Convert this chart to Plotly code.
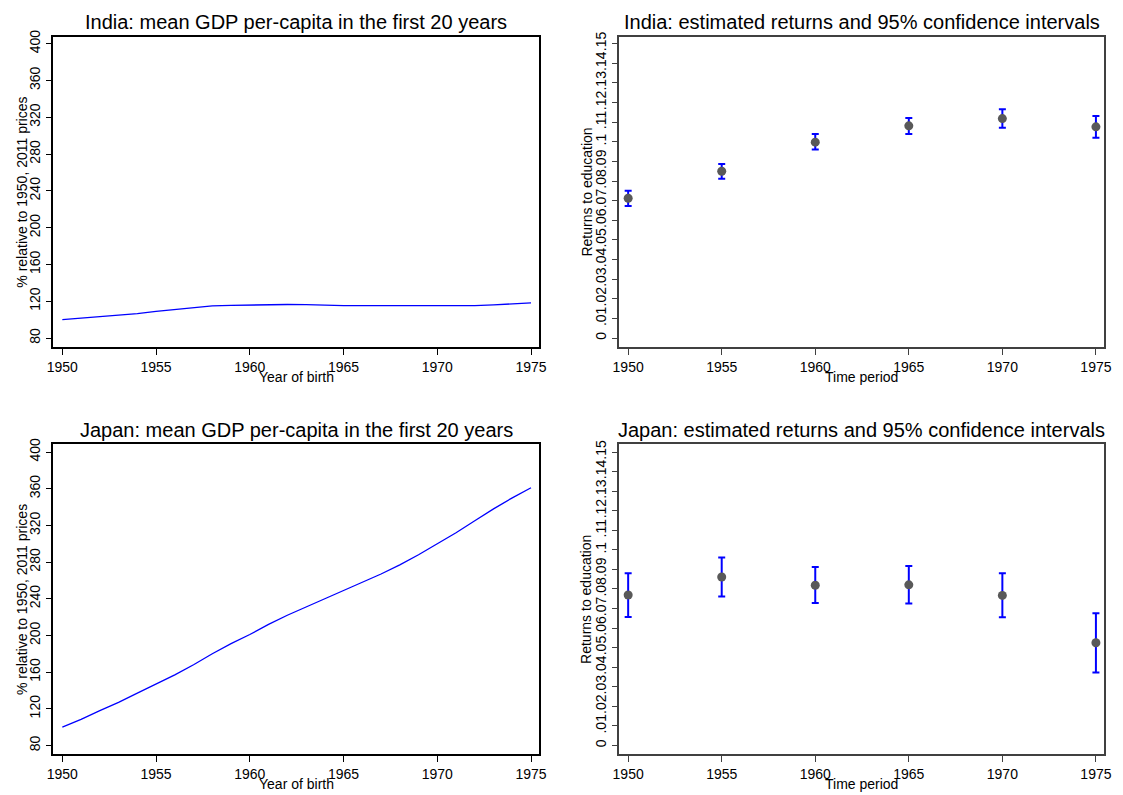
import plotly.graph_objects as go

# ---------------- data ----------------
years_gdp = list(range(1950, 1976))
india_gdp = [100, 101.5, 103, 105, 106.5, 109, 111, 113, 115, 115.5, 116, 116.5, 116.5,
             116.3, 115.5, 115.3, 115.3, 115.3, 115, 114.9, 114.9, 115, 115.2, 116, 117, 118.3]
japan_gdp = [100, 108.5, 118, 127, 137, 147, 157, 168, 180, 191, 201, 212, 222,
             231, 240, 249, 258, 267, 277, 288, 300, 312, 325, 338, 350, 361]

periods = [1950, 1955, 1960, 1965, 1970, 1975]
india_ret = [0.0712, 0.0850, 0.0998, 0.1081, 0.1118, 0.1076]
india_lo = [0.0673, 0.0811, 0.0961, 0.1040, 0.1071, 0.1020]
india_hi = [0.0751, 0.0887, 0.1039, 0.1121, 0.1165, 0.1131]
japan_ret = [0.0769, 0.0861, 0.0819, 0.0821, 0.0767, 0.0525]
japan_lo = [0.0657, 0.0762, 0.0728, 0.0726, 0.0655, 0.0373]
japan_hi = [0.0880, 0.0961, 0.0912, 0.0917, 0.0880, 0.0676]

x_ticks = [1950, 1955, 1960, 1965, 1970, 1975]
gdp_ticks = [80, 120, 160, 200, 240, 280, 320, 360, 400]
ret_ticks = [0, 0.01, 0.02, 0.03, 0.04, 0.05, 0.06, 0.07, 0.08, 0.09, 0.10,
             0.11, 0.12, 0.13, 0.14, 0.15]
ret_labels = ["0", ".01", ".02", ".03", ".04", ".05", ".06", ".07", ".08", ".09", ".1",
              ".11", ".12", ".13", ".14", ".15"]

titles = ["India: mean GDP per-capita in the first 20 years",
          "India: estimated returns and 95% confidence intervals",
          "Japan: mean GDP per-capita in the first 20 years",
          "Japan: estimated returns and 95% confidence intervals"]
gdp_ytitle = "% relative to 1950, 2011 prices"
ret_ytitle = "Returns to education"
gdp_xtitle = "Year of birth"
ret_xtitle = "Time period"

# ---------------- figure ----------------
W, H = 1123, 795
FONT = "Liberation Sans, Arial, sans-serif"

def px_x(p):
    return p / W

def px_y(p):
    return 1 - p / H

fig = go.Figure()

# GDP lines
fig.add_trace(go.Scatter(x=years_gdp, y=india_gdp, mode="lines",
                         line=dict(color="#0000FF", width=1.3),
                         xaxis="x", yaxis="y", showlegend=False))
fig.add_trace(go.Scatter(x=years_gdp, y=japan_gdp, mode="lines",
                         line=dict(color="#0000FF", width=1.3),
                         xaxis="x3", yaxis="y3", showlegend=False))

# Returns with CIs
def ret_trace(mean, lo, hi, xa, ya):
    return go.Scatter(
        x=periods, y=mean, mode="markers",
        marker=dict(color="#595959", size=9),
        error_y=dict(type="data", symmetric=False,
                     array=[h - m for h, m in zip(hi, mean)],
                     arrayminus=[m - l for m, l in zip(mean, lo)],
                     color="#0000FF", thickness=2, width=3.5),
        xaxis=xa, yaxis=ya, showlegend=False)

fig.add_trace(ret_trace(india_ret, india_lo, india_hi, "x2", "y2"))
fig.add_trace(ret_trace(japan_ret, japan_lo, japan_hi, "x4", "y4"))

left_dom = [px_x(47), px_x(539)]
right_dom = [px_x(620), px_x(1111)]
top_dom = [px_y(343), px_y(30)]
bot_dom = [px_y(754), px_y(441)]

tickfont = dict(family=FONT, size=14, color="black")

def xax(domain, anchor, color):
    return dict(domain=domain, anchor=anchor, range=[1949.525, 1975.44],
                tickmode="array", tickvals=x_ticks, ticks="outside", ticklen=6,
                tickcolor=color, tickwidth=1.3, showline=True, linecolor=color,
                linewidth=1.5, mirror=True, showgrid=False, zeroline=False,
                tickfont=tickfont)

def yax(domain, anchor, color, rng, vals, texts=None):
    d = dict(domain=domain, anchor=anchor, range=rng,
             tickmode="array", tickvals=vals, ticks="outside", ticklen=6,
             tickcolor=color, tickwidth=1.3, showline=True, linecolor=color,
             linewidth=1.5, mirror=True, showgrid=False, zeroline=False,
             tickangle=-90, tickfont=tickfont)
    if texts is not None:
        d["ticktext"] = texts
    return d

fig.update_layout(
    width=W, height=H,
    margin=dict(l=0, r=0, t=0, b=0),
    paper_bgcolor="white", plot_bgcolor="white",
    font=dict(family=FONT, color="black"),
    xaxis=xax(left_dom, "y", "black"),
    yaxis=yax(top_dom, "x", "black", [70.3, 407.5], gdp_ticks),
    xaxis2=xax(right_dom, "y2", "#404040"),
    yaxis2=yax(top_dom, "x2", "#404040", [-0.00455, 0.1535], ret_ticks, ret_labels),
    xaxis3=xax(left_dom, "y3", "black"),
    yaxis3=yax(bot_dom, "x3", "black", [70.3, 408.6], gdp_ticks),
    xaxis4=xax(right_dom, "y4", "#404040"),
    yaxis4=yax(bot_dom, "x4", "#404040", [-0.00456, 0.15405], ret_ticks, ret_labels),
)

ann = []
def add_text(text, x, y, size, angle=0):
    ann.append(dict(text=text, x=px_x(x), y=px_y(y), xref="paper", yref="paper",
                    showarrow=False, xanchor="center", yanchor="middle",
                    textangle=angle, font=dict(family=FONT, size=size, color="black")))

lc = (47 + 539) / 2
rc = (620 + 1111) / 2
add_text(titles[0], lc, 15, 20)
add_text(titles[1], rc, 15, 20)
add_text(titles[2], lc, 427, 20)
add_text(titles[3], rc, 427, 20)
add_text(gdp_xtitle, lc, 373, 14)
add_text(ret_xtitle, rc, 373, 14)
add_text(gdp_xtitle, lc, 784, 14)
add_text(ret_xtitle, rc, 784, 14)
add_text(gdp_ytitle, 15, 186.5, 14, -90)
add_text(gdp_ytitle, 15, 597.5, 14, -90)
add_text(ret_ytitle, 587, 186.5, 14, -90)
add_text(ret_ytitle, 587, 597.5, 14, -90)
fig.update_layout(annotations=ann)

fig.write_html("out.html", config={"displayModeBar": False},
               post_script="document.body.style.margin='0';document.body.style.overflow='hidden';")
